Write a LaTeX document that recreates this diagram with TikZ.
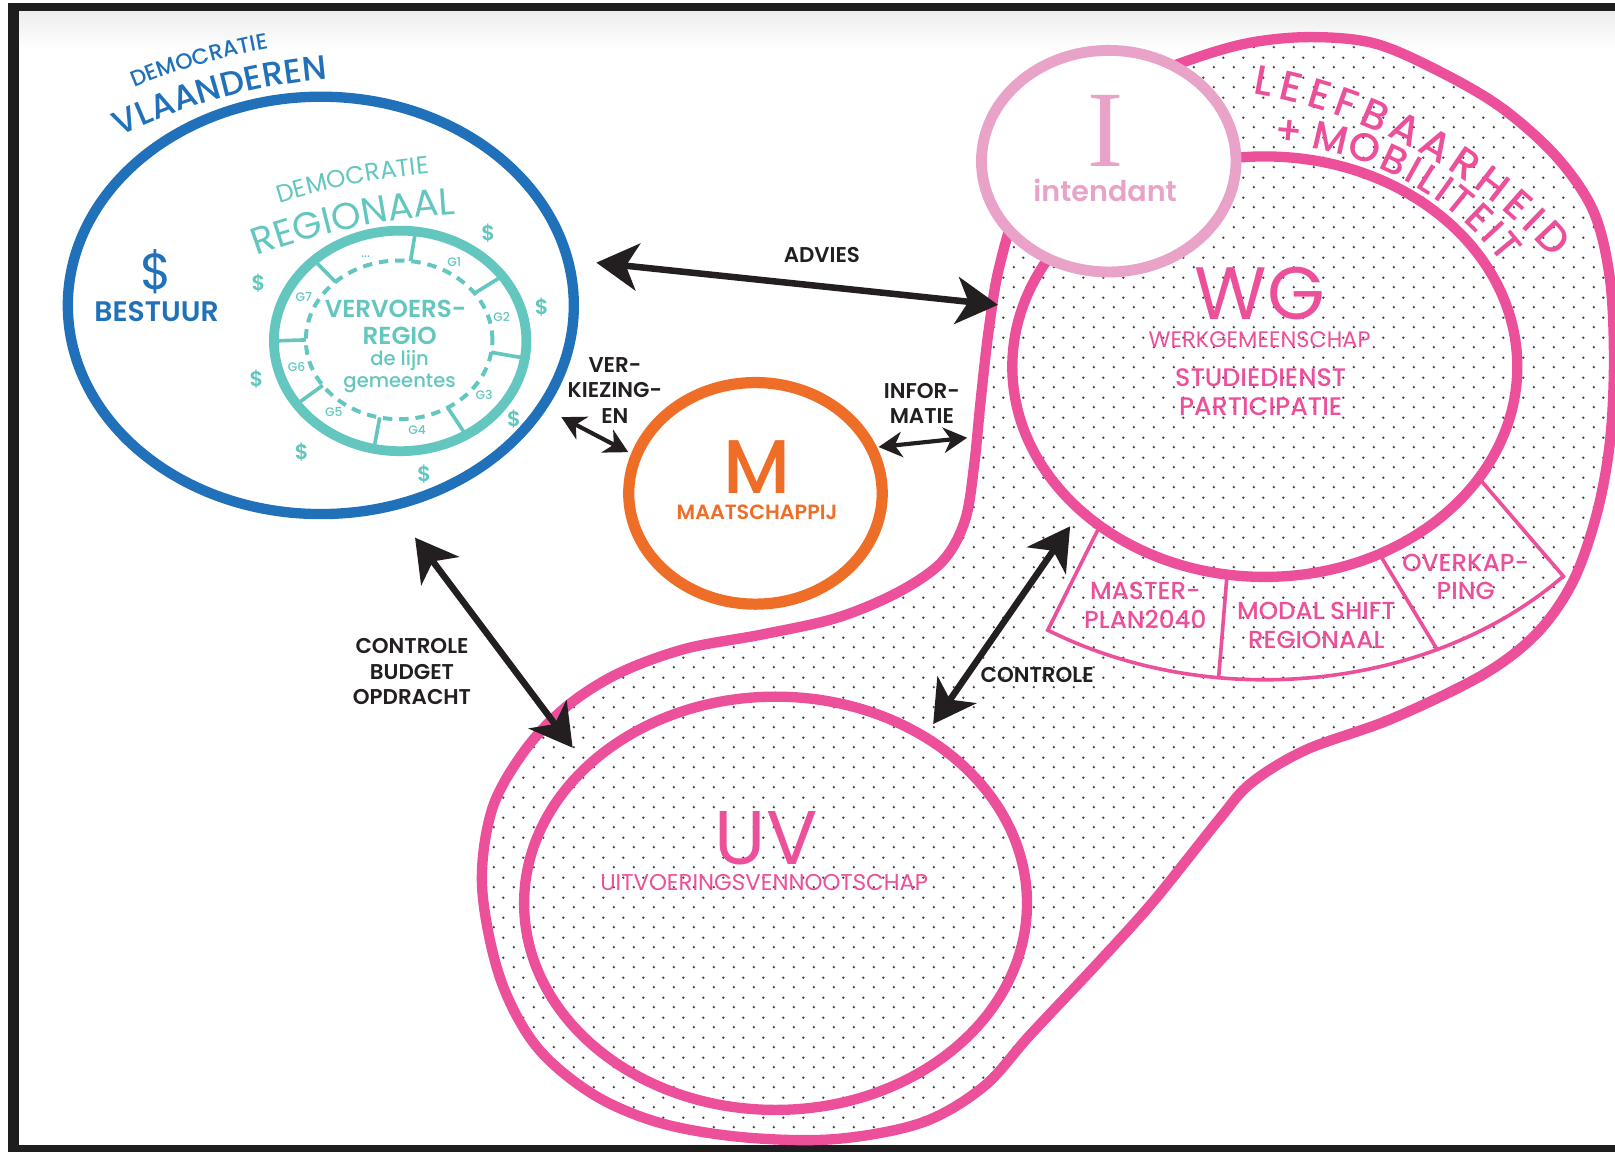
\documentclass[tikz,border=0pt]{standalone}
\usepackage{fontspec}
\IfFontExistsTF{Poppins SemiBold}{\setmainfont{Poppins}[BoldFont={Poppins SemiBold}]}{\setmainfont{Poppins}}
\IfFontExistsTF{Poppins Medium}{\newfontfamily\medfont{Poppins Medium}}{\newfontfamily\medfont{Poppins}}
\newfontfamily\seriffont{Liberation Serif}
\usetikzlibrary{shapes.geometric,arrows.meta,calc,decorations.text,patterns}

\definecolor{vblue}{HTML}{2071B9}
\definecolor{rteal}{HTML}{63C7BF}
\definecolor{morange}{HTML}{EE6E28}
\definecolor{wgpink}{HTML}{EC509B}
\definecolor{ipink}{HTML}{E9A3C8}
\definecolor{inkblack}{HTML}{231F20}
\definecolor{framedark}{HTML}{1E1E1E}
\definecolor{dotgray}{HTML}{454545}

\newcommand{\fsz}[2]{\fontsize{#1}{#2}\selectfont}

% staggered dot grid for the pink zone
\pgfdeclarepatternformonly{blobdots}{\pgfpointorigin}{\pgfqpoint{5.4pt}{5.4pt}}{\pgfqpoint{5.4pt}{5.4pt}}{%
  \pgfpathcircle{\pgfqpoint{1.35pt}{1.35pt}}{0.36pt}%
  \pgfpathcircle{\pgfqpoint{4.05pt}{4.05pt}}{0.36pt}%
  \pgfusepath{fill}}

\begin{document}
\begin{tikzpicture}[x=0.01cm,y=-0.01cm,
  ring/.style={ellipse,inner sep=0pt,outer sep=0pt},
  lbl/.style={text=inkblack,font=\bfseries\fsz{5.9pt}{7pt},align=center,inner sep=0pt},
  bigarr/.style={draw=inkblack,line width=1.8pt,<->,>={Stealth[length=11.5pt,width=13pt,inset=3.3pt]}},
  smallarr/.style={draw=inkblack,line width=1.15pt,<->,>={Stealth[length=6.5pt,width=7pt,inset=2pt]}},
  tealtxt/.style={text=rteal,inner sep=0pt,align=center},
  pinktxt/.style={text=wgpink,inner sep=0pt,align=center},
  segtxt/.style={pinktxt,font=\medfont\fsz{6.8pt}{7.9pt}},
  segline/.style={draw=wgpink,line width=1pt},
  arcletter/.style={text=wgpink,inner sep=0pt,anchor=base,font=\medfont\fsz{11.5pt}{11.5pt}},
  tealdollar/.style={tealtxt,font=\bfseries\fsz{5.8pt}{6pt}},
  glab/.style={tealtxt,font=\medfont\fsz{3.4pt}{4pt}}]
\useasboundingbox (0,0) rectangle (1568,1118);
\fill[white] (0,0) rectangle (1568,1118);
\fill[framedark] (7.5,3) rectangle (1568,1118);
\fill[white] (18.5,11.5) rectangle (1568,1111.5);
\shade[top color=black!7,bottom color=white] (18.5,11.5) rectangle (1568,48);

% pink zone
\path[pattern=blobdots,pattern color=dotgray] plot[smooth cycle,tension=0.55] coordinates {
  (1150,60) (1211,42) (1272,36) (1334,42) (1395,68) (1457,104) (1511,152) (1547,205)
  (1563,270) (1567,350) (1563,430) (1550,500) (1527,565) (1492,615) (1440,655) (1351,698)
  (1268,728) (1215,760) (1184,795) (1120,875) (1064,937) (1000,1005) (955,1055) (895,1090)
  (810,1106) (720,1104) (640,1090) (575,1062) (520,1015) (485,948) (468,860) (478,785)
  (510,728) (550,686) (600,654) (665,630) (740,616) (812,600) (872,575) (915,545)
  (937,505) (946,450) (952,390) (960,320) (970,260) (990,200) (1040,130) (1090,85)};
\draw[wgpink,line width=2.85pt] plot[smooth cycle,tension=0.55] coordinates {
  (1150,60) (1211,42) (1272,36) (1334,42) (1395,68) (1457,104) (1511,152) (1547,205)
  (1563,270) (1567,350) (1563,430) (1550,500) (1527,565) (1492,615) (1440,655) (1351,698)
  (1268,728) (1215,760) (1184,795) (1120,875) (1064,937) (1000,1005) (955,1055) (895,1090)
  (810,1106) (720,1104) (640,1090) (575,1062) (520,1015) (485,948) (468,860) (478,785)
  (510,728) (550,686) (600,654) (665,630) (740,616) (812,600) (872,575) (915,545)
  (937,505) (946,450) (952,390) (960,320) (970,260) (990,200) (1040,130) (1090,85)};

% letters set one by one along the zone's edge
\coordinate (leefc) at (1134,584.5);
\coordinate (mobc) at (1221,438);
\foreach \ch/\a [count=\i] in {L/-79.50,E/-76.46,E/-73.33,F/-70.25,B/-66.95,A/-63.29,
    A/-59.51,R/-55.86,H/-52.15,E/-48.63,I/-46.17,D/-43.38}
  \node (leef\i) [arcletter,rotate={-(\a+90)}] at ($(leefc)+(\a:500)$) {\ch};
\foreach \ch/\a [count=\i] in {+/-84.41,M/-76.89,O/-70.46,B/-64.81,I/-61.01,L/-57.71,
    I/-54.40,T/-50.94,E/-46.40,I/-42.94,T/-39.48}
  \node (mob\i) [arcletter,font=\medfont\fsz{11pt}{11pt},rotate={-(\a+90)}] at ($(mobc)+(\a:299)$) {\ch};

% werkgemeenschap
\node (wg) [ring,draw=wgpink,line width=2.85pt,minimum width=4.9cm,minimum height=4.08cm] at (1228,356) {};
\node (wgname) [pinktxt,font=\fsz{20.5pt}{20.5pt}] at (1223,285) {WG};
\node (wglbl) [pinktxt,font=\fsz{6.2pt}{6.2pt}] at (1223,330) {WERKGEMEENSCHAP};
\node (studie) [pinktxt,font=\medfont\fsz{7pt}{8pt}] at (1224,381) {STUDIEDIENST\\PARTICIPATIE};

\coordinate (s1i) at ($(wg.center)+(130.8:245 and 204)$);
\coordinate (s2i) at ($(wg.center)+(98.6:245 and 204)$);
\coordinate (s3i) at ($(wg.center)+(63:245 and 204)$);
\coordinate (s4i) at ($(wg.center)+(32:245 and 204)$);
\coordinate (s1o) at ($(wg.center)+(122.7:390 and 304)$);
\coordinate (s2o) at ($(wg.center)+(96.6:390 and 304)$);
\coordinate (s3o) at ($(wg.center)+(64.6:390 and 304)$);
\draw[segline] (s1i) -- (s1o) arc[start angle=122.7,end angle=42,x radius=390,y radius=304] -- (s4i);
\draw[segline] (s2i) -- (s2o);
\draw[segline] (s3i) -- (s3o);
\node (master) [segtxt] at (1112,588) {MASTER-\\PLAN2040};
\node (modal) [segtxt] at (1278,607.5) {MODAL SHIFT\\REGIONAAL};
\node (overkap) [segtxt] at (1423,560) {OVERKAP-\\PING};

% uitvoeringsvennootschap
\node (uv) [ring,draw=wgpink,line width=2.85pt,minimum width=4.88cm,minimum height=4.01cm] at (753,877) {};
\node (uvname) [pinktxt,font=\fsz{21pt}{21pt}] at (744,814) {UV};
\node (uvlbl) [pinktxt,font=\fsz{6.3pt}{6.3pt}] at (742,857) {UITVOERINGSVENNOOTSCHAP};

% intendant
\node (intd) [ring,draw=ipink,fill=white,line width=3pt,minimum width=2.47cm,minimum height=2.15cm] at (1076.5,156.5) {};
\node (iletter) [text=ipink,inner sep=0pt,font=\seriffont\fsz{30pt}{30pt}] at (1073,127) {I};
\node (intlbl) [text=ipink,inner sep=0pt,font=\bfseries\fsz{7.9pt}{8pt}] at (1073,185) {intendant};

% vlaanderen
\node (vl) [ring,draw=vblue,line width=2.85pt,minimum width=4.91cm,minimum height=4.05cm] at (311.5,296.5) {};
\coordinate (vlc) at (364,638);
\path[decorate,decoration={text along path,text align=center,text color=vblue,
  text={|\medfont\fsz{6.1pt}{6.1pt}|DEMOCRATIE}}] ($(vlc)+(-136.4:600)$) arc[start angle=-136.4,end angle=-76.4,radius=600];
\path[decorate,decoration={text along path,text align=center,text color=vblue,
  text={|\medfont\fsz{9.4pt}{9.4pt}|VLAANDEREN}}] ($(vlc)+(-135.4:563)$) arc[start angle=-135.4,end angle=-75.4,radius=563];
\node (bdollar) [text=vblue,inner sep=0pt,font=\fsz{14pt}{14pt}] at (152,264) {\$};
\node (bestuur) [text=vblue,inner sep=0pt,font=\bfseries\fsz{7.8pt}{8pt}] at (152,303) {BESTUUR};

% vervoersregio
\coordinate (rgc) at (480.5,872.5);
\path[decorate,decoration={text along path,text align=center,text color=rteal,
  text={|\fsz{6.8pt}{6.8pt}|DEMOCRATIE}}] ($(rgc)+(-126.2:707)$) arc[start angle=-126.2,end angle=-76.2,radius=707];
\path[decorate,decoration={text along path,text align=center,text color=rteal,
  text={|\fsz{10.4pt}{10.4pt}|REGIONAAL}}] ($(rgc)+(-126.8:665.5)$) arc[start angle=-126.8,end angle=-76.8,radius=665.5];
\node (vr) [ring,draw=rteal,line width=2.7pt,minimum width=2.45cm,minimum height=2.14cm] at (388.5,331) {};
\node (vrin) [ring,draw=rteal,line width=1.1pt,dash pattern=on 2.6pt off 1.9pt,minimum width=1.81cm,minimum height=1.54cm] at (387.5,330) {};
\foreach \a in {-83,-36,9,58.6,102,145,180,227}
  \draw[rteal,line width=1pt] ($(vr.center)+(\a:122.5 and 107)$) -- ($(vrin.center)+(\a:90.5 and 77)$);
\foreach \g/\x/\y in {G1/441/254,G2/487/308,G3/470/383,G4/405/418,G5/324/400,G6/288/356,G7/295/288}
  \node (\g) [glab] at (\x,\y) {\g};
\node (gdots) [glab] at (355,249) {...};
\node (vervoers) [tealtxt,font=\bfseries\fsz{6.8pt}{7pt}] at (384,300) {VERVOERS-};
\node (regio) [tealtxt,font=\bfseries\fsz{6.8pt}{7pt}] at (388,326) {REGIO};
\node (delijn) [tealtxt,font=\medfont\fsz{5.4pt}{6pt}] at (388,350) {de lijn};
\node (gemeentes) [tealtxt,font=\medfont\fsz{5.4pt}{6pt}] at (388,372) {gemeentes};
\foreach \x/\y [count=\i] in {474/226,526/298,251/275,249/368,499/407,293/439,412/460}
  \node (dol\i) [tealdollar] at (\x,\y) {\$};

% maatschappij
\node (maat) [ring,draw=morange,line width=3.1pt,minimum width=2.46cm,minimum height=2.15cm] at (733.5,479) {};
\node (mletter) [text=morange,inner sep=0pt,font=\medfont\fsz{21pt}{21pt}] at (735,453) {M};
\node (maatlbl) [text=morange,inner sep=0pt,font=\bfseries\fsz{5.7pt}{6pt}] at (735,497) {MAATSCHAPPIJ};

% relaties
\coordinate (advl) at (579,255);
\coordinate (advr) at (969,296);
\coordinate (verkl) at (545,405);
\coordinate (verkr) at (610,439);
\coordinate (infl) at (853,434);
\coordinate (infr) at (939,425);
\coordinate (ctrlt) at (403,522);
\coordinate (ctrlb) at (556,726);
\coordinate (uvctt) at (1039,511);
\coordinate (uvctb) at (906,703);
\draw[bigarr] (advl) -- (advr);
\draw[smallarr] (verkl) -- (verkr);
\draw[smallarr] (infl) -- (infr);
\draw[bigarr] (ctrlt) -- (ctrlb);
\draw[bigarr] (uvctt) -- (uvctb);
\node (advies) [lbl] at (798,248) {ADVIES};
\node (verkiezing) [lbl] at (597,379) {VER-\\KIEZING-\\EN};
\node (informatie) [lbl] at (895,391.5) {INFOR-\\MATIE};
\node (budget) [lbl] at (400,652) {CONTROLE\\BUDGET\\OPDRACHT};
\node (controle) [lbl] at (1007,655) {CONTROLE};
\end{tikzpicture}
\end{document}
